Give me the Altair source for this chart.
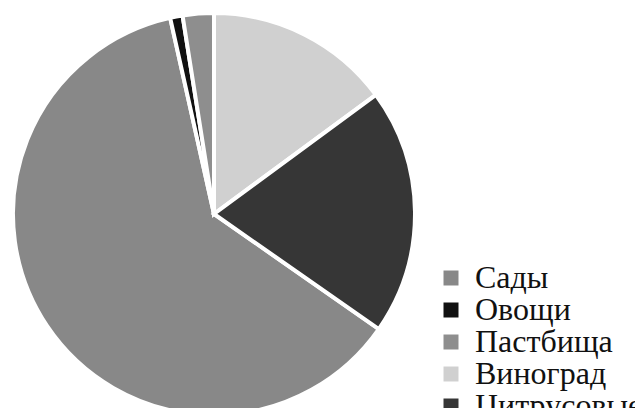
import altair as alt
import pandas as pd

categories = ["Сады", "Овощи", "Пастбища", "Виноград", "Цитрусовые"]
values = [61.8, 1.0, 2.5, 14.9, 19.8]
draw_order = [3, 4, 5, 1, 2]
colors = ["#888888", "#111111", "#8e8e8e", "#d0d0d0", "#363636"]

df = pd.DataFrame({"cat": categories, "val": values, "ord": draw_order})

chart = alt.Chart(df).mark_arc(
    radius=201, stroke="white", strokeWidth=4
).encode(
    theta=alt.Theta("val:Q", stack=True),
    order=alt.Order("ord:Q"),
    color=alt.Color(
        "cat:N",
        scale=alt.Scale(domain=categories, range=colors),
        legend=alt.Legend(
            title=None,
            orient="none",
            legendX=427,
            legendY=254,
            symbolType="square",
            symbolSize=225,
            symbolStrokeWidth=0,
            labelFont="Liberation Serif",
            labelFontSize=32,
            labelColor="#111111",
            labelOffset=8,
            rowPadding=-2,
            padding=0,
            labelLimit=300,
        ),
    ),
    x=alt.value(206),
    y=alt.value(206),
).properties(
    width=627, height=400, autosize=alt.AutoSizeParams(type="none"), padding=0
).configure_view(stroke=None)

chart.save("out.html", embed_options={"renderer": "svg", "actions": False})
